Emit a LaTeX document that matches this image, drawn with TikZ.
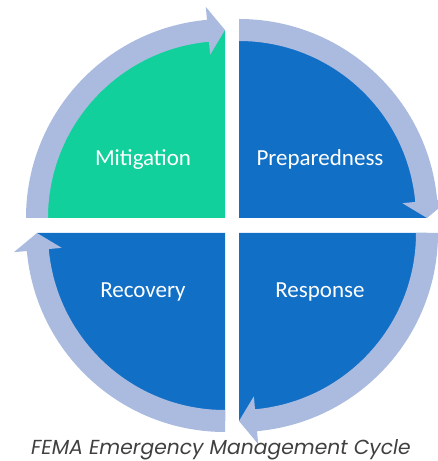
\documentclass[tikz,border=0pt]{standalone}
\usepackage{fontspec}
\setmainfont{Carlito}
\newfontfamily\captionfont{Poppins}

\definecolor{mitgreen}{HTML}{12D09B}
\definecolor{phaseblue}{HTML}{116FC6}
\definecolor{bandblue}{HTML}{AABBDF}
\definecolor{captiongray}{HTML}{404040}

\begin{document}
\begin{tikzpicture}[
  x=1pt, y=1pt,
  every node/.style={font=\fontsize{23}{27}\selectfont, text=white, anchor=base},
  quarter/.style={fill=phaseblue},
  band/.style={fill=bandblue},
  caption/.style={font=\captionfont\itshape\fontsize{20.3}{24}\selectfont, text=captiongray}
]

\def\rfill{188}
\def\rin{177}
\def\rout{199}
\def\rheadin{164}
\def\rheadout{212}

\clip (0,0) rectangle (438,461);
\useasboundingbox (0,0) rectangle (438,461);

\coordinate (mitc) at (225,243);
\coordinate (prepc) at (239,243);
\coordinate (respc) at (239,228);
\coordinate (recc) at (225,228);

% the four phases
\fill[quarter, fill=mitgreen] (mitc) -- ++(180:\rfill) arc[start angle=180, end angle=90, radius=\rfill] -- cycle;
\fill[quarter] (prepc) -- ++(90:\rfill) arc[start angle=90, end angle=0, radius=\rfill] -- cycle;
\fill[quarter] (respc) -- ++(0:\rfill) arc[start angle=0, end angle=-90, radius=\rfill] -- cycle;
\fill[quarter] (recc) -- ++(-90:\rfill) arc[start angle=-90, end angle=-180, radius=\rfill] -- cycle;

% curved arrows, clockwise
\fill[band] ([shift={(180:\rout)}]mitc) arc[start angle=180, end angle=95.2, radius=\rout]
  -- ([shift={(95.2:\rheadout)}]mitc) -- ([shift={(90:\rfill)}]mitc) -- ([shift={(95.2:\rheadin)}]mitc)
  -- ([shift={(95.2:\rin)}]mitc) arc[start angle=95.2, end angle=180, radius=\rin] -- cycle;
\fill[band] ([shift={(90:\rout)}]prepc) arc[start angle=90, end angle=5.2, radius=\rout]
  -- ([shift={(5.2:\rheadout)}]prepc) -- ([shift={(0:\rfill)}]prepc) -- ([shift={(5.2:\rheadin)}]prepc)
  -- ([shift={(5.2:\rin)}]prepc) arc[start angle=5.2, end angle=90, radius=\rin] -- cycle;
\fill[band] ([shift={(0:\rout)}]respc) arc[start angle=0, end angle=-84.8, radius=\rout]
  -- ([shift={(-84.8:\rheadout)}]respc) -- ([shift={(-90:\rfill)}]respc) -- ([shift={(-84.8:\rheadin)}]respc)
  -- ([shift={(-84.8:\rin)}]respc) arc[start angle=-84.8, end angle=0, radius=\rin] -- cycle;
\fill[band] ([shift={(-90:\rout)}]recc) arc[start angle=-90, end angle=-174.8, radius=\rout]
  -- ([shift={(-174.8:\rheadout)}]recc) -- ([shift={(-180:\rfill)}]recc) -- ([shift={(-174.8:\rheadin)}]recc)
  -- ([shift={(-174.8:\rin)}]recc) arc[start angle=-174.8, end angle=-90, radius=\rin] -- cycle;

\node (mitigation) at (143,295) {Mitigation};
\node (preparedness) at (320,295) {Preparedness};
\node (recovery) at (143,163) {Recovery};
\node (response) at (320,163) {Response};

\node[caption] (title) at (221,6.5) {FEMA Emergency Management Cycle};

\end{tikzpicture}
\end{document}
